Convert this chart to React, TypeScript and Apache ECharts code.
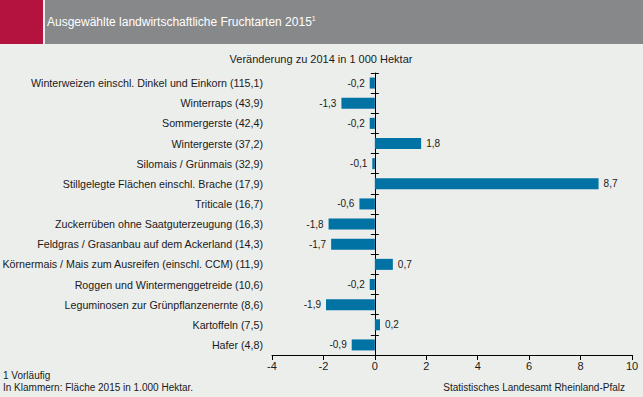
import React, { useEffect, useRef } from "react";
import * as echarts from "echarts";

const categories = [
  "Winterweizen einschl. Dinkel und Einkorn (115,1)",
  "Winterraps (43,9)",
  "Sommergerste (42,4)",
  "Wintergerste (37,2)",
  "Silomais / Grünmais (32,9)",
  "Stillgelegte Flächen einschl. Brache (17,9)",
  "Triticale (16,7)",
  "Zuckerrüben ohne Saatguterzeugung (16,3)",
  "Feldgras / Grasanbau auf dem Ackerland (14,3)",
  "Körnermais / Mais zum Ausreifen (einschl. CCM) (11,9)",
  "Roggen und Wintermenggetreide (10,6)",
  "Leguminosen zur Grünpflanzenernte (8,6)",
  "Kartoffeln (7,5)",
  "Hafer (4,8)",
];
const changes = [-0.2, -1.3, -0.2, 1.8, -0.1, 8.7, -0.6, -1.8, -1.7, 0.7, -0.2, -1.9, 0.2, -0.9];
const xMin = -4;
const xMax = 10;
const xInterval = 2;

const titleText = "Ausgewählte landwirtschaftliche Fruchtarten 2015";
const subtitleText = "Veränderung zu 2014 in 1 000 Hektar";
const footnote1 = "1 Vorläufig";
const footnote2 = "In Klammern: Fläche 2015 in 1.000 Hektar.";
const sourceText = "Statistisches Landesamt Rheinland-Pfalz";

const W = 643;
const H = 397;
const gridLeft = 272;
const gridRight = 11;
const gridTop = 73;
const gridBottom = 42;
const font = "'Liberation Sans', Arial, sans-serif";

export default function App() {
  const ref = useRef<HTMLDivElement>(null);
  useEffect(() => {
    if (!ref.current) return;
    const chart = echarts.init(ref.current, null, { renderer: "svg" });
    const gridW = W - gridLeft - gridRight;
    const zeroOffset = -(gridW * (0 - xMin)) / (xMax - xMin);
    const catAxisBase = {
      type: "category" as const,
      data: categories,
      inverse: true,
    };
    chart.setOption({
      animation: false,
      backgroundColor: "#ECEEEC",
      textStyle: { fontFamily: font },
      graphic: [
        { type: "rect", shape: { x: 0, y: 0, width: 43, height: 44 }, style: { fill: "#B5133F" } },
        { type: "rect", shape: { x: 45, y: 0, width: W - 45, height: 44 }, style: { fill: "#878889" } },
        {
          type: "text",
          x: 47,
          y: 15,
          style: {
            text: "{a|" + titleText + "}{s|1}",
            rich: {
              a: { fontSize: 12, fill: "#ffffff", fontFamily: font },
              s: { fontSize: 7, fill: "#ffffff", fontFamily: font, verticalAlign: "top", padding: [0, 0, 6, 0] },
            },
          },
        },
        {
          type: "text",
          x: 321,
          y: 53,
          style: { text: subtitleText, fontSize: 11, fill: "#1a1a1a", fontFamily: font, align: "center" },
        },
        {
          type: "text",
          x: 3,
          y: 370,
          style: { text: footnote1, fontSize: 10, fill: "#1a1a1a", fontFamily: font },
        },
        {
          type: "text",
          x: 3,
          y: 382,
          style: { text: footnote2, fontSize: 10, fill: "#1a1a1a", fontFamily: font },
        },
        {
          type: "text",
          x: 625,
          y: 382,
          style: { text: sourceText, fontSize: 10, fill: "#1a1a1a", fontFamily: font, align: "right" },
        },
      ],
      grid: {
        left: gridLeft,
        right: gridRight,
        top: gridTop,
        bottom: gridBottom,
        containLabel: false,
        outerBoundsMode: "none",
      },
      xAxis: {
        type: "value",
        min: xMin,
        max: xMax,
        interval: xInterval,
        axisLine: { show: true, onZero: false, lineStyle: { color: "#000", width: 1 } },
        axisTick: { show: true, length: 5, lineStyle: { color: "#000" } },
        axisLabel: { fontSize: 11, color: "#1a1a1a", margin: 5, fontFamily: font },
        splitLine: { show: false },
      },
      yAxis: [
        {
          ...catAxisBase,
          position: "left",
          axisLine: { show: false, onZero: false },
          axisTick: { show: false },
          axisLabel: { fontSize: 10.7, color: "#1a1a1a", margin: 9, fontFamily: font },
        },
        {
          ...catAxisBase,
          position: "left",
          offset: zeroOffset,
          axisLine: { show: true, onZero: false, lineStyle: { color: "#000", width: 1 } },
          axisTick: { show: true, length: 4, lineStyle: { color: "#000" } },
          axisLabel: { show: false },
        },
        {
          ...catAxisBase,
          position: "left",
          offset: zeroOffset,
          axisLine: { show: false, onZero: false },
          axisTick: { show: true, inside: true, length: 4, lineStyle: { color: "#000" } },
          axisLabel: { show: false },
        },
      ],
      series: [
        {
          type: "bar",
          yAxisIndex: 0,
          barWidth: 11,
          data: changes.map((v) => ({
            value: v,
            label: { position: v < 0 ? "left" : "right" },
          })),
          itemStyle: { color: "#0072A4" },
          label: {
            show: true,
            fontSize: 10,
            color: "#1a1a1a",
            distance: 5,
            fontFamily: font,
            formatter: (p: any) => String(p.value).replace(".", ","),
          },
        },
      ],
    });
    return () => chart.dispose();
  }, []);
  return <div ref={ref} style={{ position: "fixed", left: 0, top: 0, width: W, height: H }} />;
}
